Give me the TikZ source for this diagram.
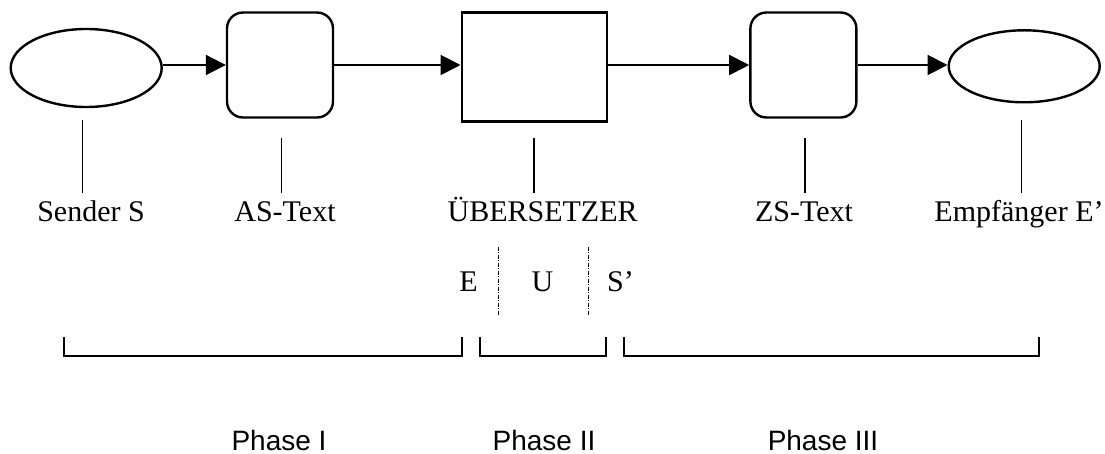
\documentclass[tikz,border=0pt]{standalone}
\usepackage{fontspec}
\setmainfont{Liberation Serif}
\setsansfont{Liberation Sans}
\usetikzlibrary{arrows.meta,shapes.geometric}
\tikzset{
  shapeline/.style={draw=black,line width=2.4bp,inner sep=0pt},
  ellnode/.style={shapeline,ellipse,minimum width=151bp},
  roundbox/.style={shapeline,rectangle,rounded corners=16bp,minimum width=106bp,minimum height=105bp},
  plainbox/.style={shapeline,rectangle,minimum width=145bp,minimum height=109bp},
  flow/.style={line width=2bp,-{Triangle[length=20bp,width=20bp]}},
  tick/.style={line width=1.4bp},
  bracket/.style={line width=2bp},
  sep/.style={line width=1bp,dash pattern=on 4bp off 1.5bp on 1bp off 1.5bp},
  lab/.style={font=\fontsize{30bp}{36bp}\selectfont,inner sep=0pt,anchor=base},
  phaselab/.style={font=\sffamily\fontsize{28bp}{33bp}\selectfont,inner sep=0pt,anchor=base}
}
\begin{document}
\begin{tikzpicture}[x=1bp,y=-1bp]
\useasboundingbox[fill=white] (0,0) rectangle (1105,454);
% shapes
\node[ellnode,minimum height=78bp] (e1) at (86.2,68) {};
\node[roundbox] (a) at (280,65) {};
\node[plainbox] (r) at (534.2,67) {};
\node[roundbox] (z) at (803.4,65) {};
\node[ellnode,minimum height=72bp] (e2) at (1024.2,66.3) {};
% arrows
\draw[flow] (e1.east |- a.west) -- (a.west);
\draw[flow] (a.east) -- (r.west |- a.east);
\draw[flow] (r.east |- z.west) -- (z.west);
\draw[flow] (z.east) -- (e2.west |- z.east);
% labels
\node[lab] (ls) at (91,222) {Sender S};
\node[lab] (la) at (285,222) {AS-Text};
\node[lab] (lr) at (542.6,222) {ÜBERSETZER};
\node[lab] (lz) at (804,222) {ZS-Text};
\node[lab] (le) at (1019,222) {Empfänger E’};
% tick lines
\coordinate (t1a) at (82.7,120);  \coordinate (t1b) at (82.7,193);
\coordinate (t2a) at (281.7,138); \coordinate (t2b) at (281.7,193);
\coordinate (t3a) at (534,138);   \coordinate (t3b) at (534,193);
\coordinate (t4a) at (805,138);   \coordinate (t4b) at (805,193);
\coordinate (t5a) at (1021.7,120);\coordinate (t5b) at (1021.7,193);
\draw[tick] (t1a) -- (t1b);
\draw[tick] (t2a) -- (t2b);
\draw[tick] (t3a) -- (t3b);
\draw[tick] (t4a) -- (t4b);
\draw[tick] (t5a) -- (t5b);
% E U S'
\node[lab] (pe) at (468.5,292) {E};
\node[lab] (pu) at (542.5,292) {U};
\node[lab,anchor=base west] (ps) at (607,292) {S’};
\coordinate (d1a) at (498,247); \coordinate (d1b) at (498,316);
\coordinate (d2a) at (588,247); \coordinate (d2b) at (588,316);
\draw[sep] (d1a) -- (d1b);
\draw[sep] (d2a) -- (d2b);
% brackets
\coordinate (b1l) at (63.5,337);  \coordinate (b1r) at (462,337);
\coordinate (b2l) at (480,337);   \coordinate (b2r) at (606,337);
\coordinate (b3l) at (623.5,337); \coordinate (b3r) at (1039,337);
\draw[bracket] (b1l) -- ++(0,19) -| (b1r);
\draw[bracket] (b2l) -- ++(0,19) -| (b2r);
\draw[bracket] (b3l) -- ++(0,19) -| (b3r);
% phase labels
\node[phaselab] (ph1) at (279,450) {Phase I};
\node[phaselab] (ph2) at (544,450) {Phase II};
\node[phaselab] (ph3) at (823,450) {Phase III};
\end{tikzpicture}
\end{document}
